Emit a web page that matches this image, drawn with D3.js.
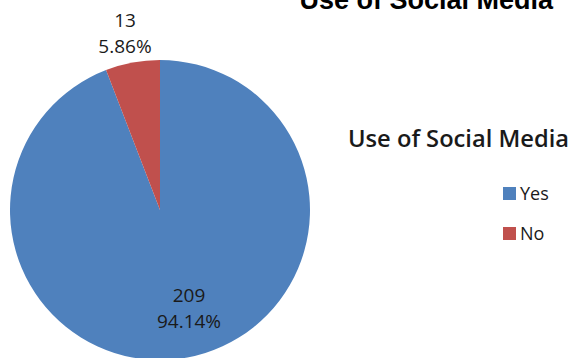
<!DOCTYPE html>
<html>
<head>
<meta charset="utf-8">
<script src="https://cdn.jsdelivr.net/npm/d3@7"></script>
<style>
  body { margin: 0; background: #fff; }
  svg { display: block; }
</style>
</head>
<body>
<svg id="chart" width="570" height="358"></svg>
<script>
// chart data
var categories = ["Yes", "No"];
var counts = [209, 13];
var percents = ["94.14%", "5.86%"];
var colors = ["#4F81BD", "#C0504D"];
var chartTitle = "Use of Social Media";

var svg = d3.select("#chart");
var cx = 160, cy = 210, radius = 150;

var pie = d3.pie().sort(null).value(function (d) { return d; });
var arc = d3.arc().innerRadius(0).outerRadius(radius);
var arcs = pie(counts);

var g = svg.append("g").attr("transform", "translate(" + cx + "," + cy + ")");

g.selectAll("path").data(arcs).enter()
  .append("path")
    .attr("d", arc)
    .attr("fill", function (d, i) { return colors[i]; });

// data labels: "No" sits above the pie, "Yes" inside the lower part
var labelFont = "'Open Sans', 'DejaVu Sans', sans-serif";
var labelPos = [[29, 92], [-35, -183]];

arcs.forEach(function (d, i) {
  var pos = labelPos[i];
  var t = g.append("text")
    .attr("text-anchor", "middle")
    .attr("font-family", labelFont)
    .attr("font-size", 19)
    .attr("fill", "#1a1a1a");
  t.append("tspan").attr("x", pos[0]).attr("y", pos[1]).text(counts[i]);
  t.append("tspan").attr("x", pos[0]).attr("y", pos[1] + 26).text(percents[i]);
});

// top title, partly cut off as in the original
svg.append("text")
  .attr("x", 553)
  .attr("y", 9)
  .attr("text-anchor", "end")
  .attr("font-family", "'Liberation Sans', Arial, sans-serif")
  .attr("font-weight", "bold")
  .attr("font-size", 27)
  .attr("fill", "#000")
  .text(chartTitle);

// legend
svg.append("text")
  .attr("x", 348)
  .attr("y", 147)
  .attr("font-family", labelFont)
  .attr("font-weight", 600)
  .attr("font-size", 23.7)
  .attr("fill", "#1a1a1a")
  .text(chartTitle);

var legendY = d3.scalePoint().domain(categories).range([193, 233]);
var items = svg.selectAll(".legend").data(categories).enter()
  .append("g")
    .attr("class", "legend")
    .attr("transform", function (d) { return "translate(503," + legendY(d) + ")"; });

items.append("rect")
  .attr("x", 0).attr("y", -6)
  .attr("width", 13).attr("height", 13)
  .attr("fill", function (d, i) { return colors[i]; });

items.append("text")
  .attr("x", 17)
  .attr("y", 7)
  .attr("font-family", labelFont)
  .attr("font-size", 18)
  .attr("fill", "#1a1a1a")
  .text(function (d) { return d; });
</script>
</body>
</html>
